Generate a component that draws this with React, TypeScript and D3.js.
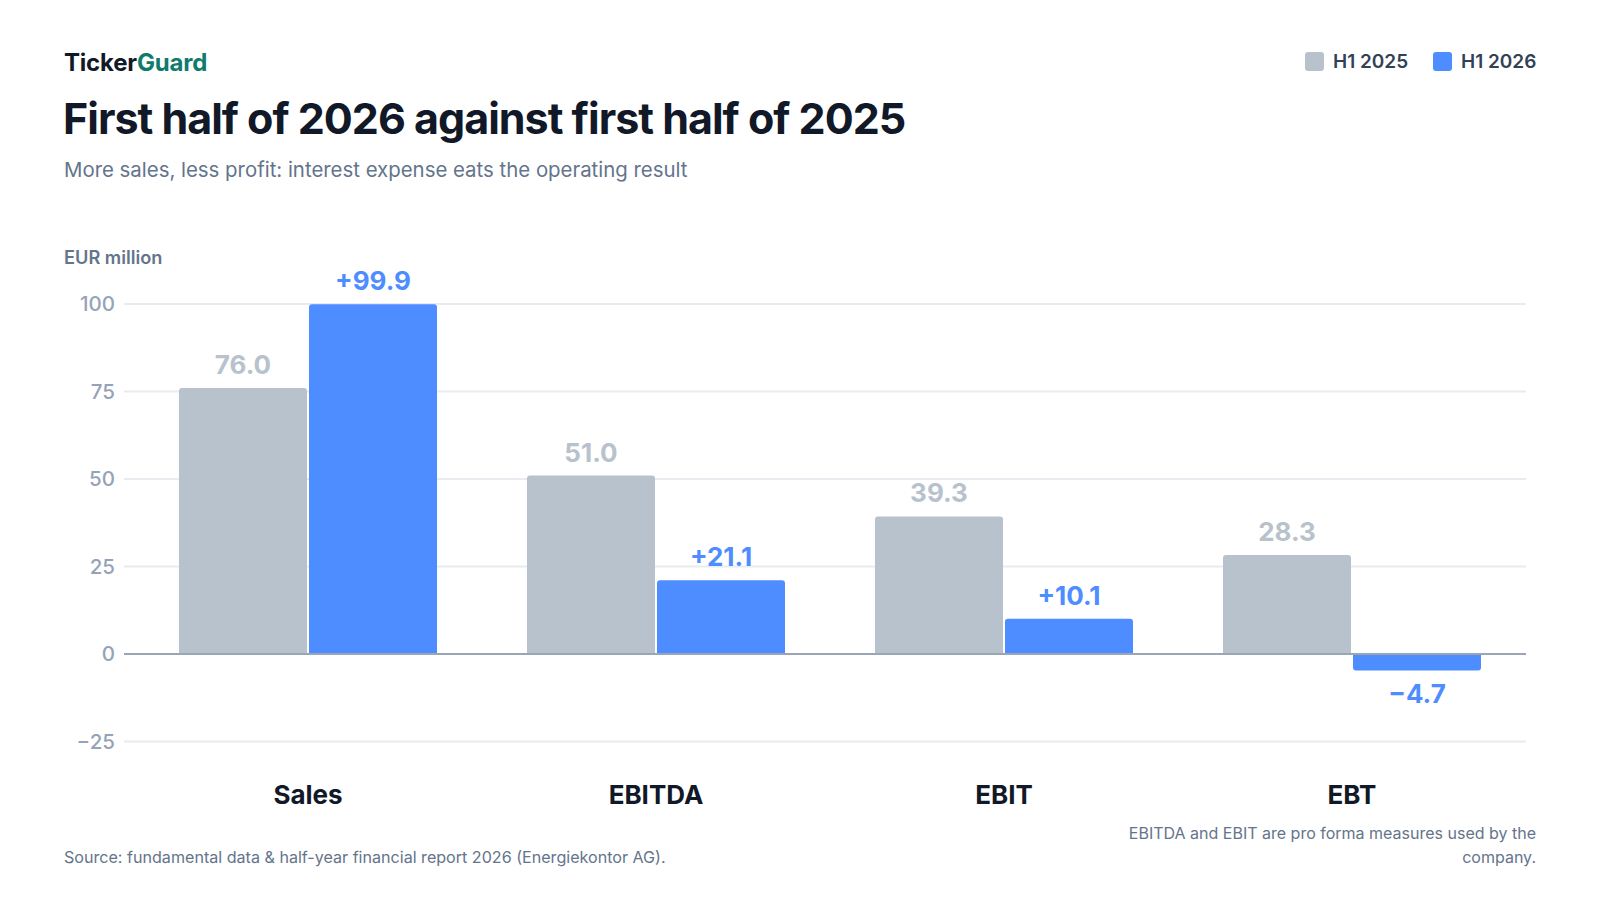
import React, { useEffect, useRef } from "react";
import * as d3 from "d3";

const categories = ["Sales", "EBITDA", "EBIT", "EBT"];
const seriesNames = ["H1 2025", "H1 2026"];
const h1_2025 = [76.0, 51.0, 39.3, 28.3];
const h1_2026 = [99.9, 21.1, 10.1, -4.7];
const yTicks = [-25, 0, 25, 50, 75, 100];

const colors = ["#b8c2cc", "#4d8dff"];
const FONT = "Inter, 'Noto Sans', sans-serif";

const fmt = (v: number, signed: boolean) => {
  const s = Math.abs(v).toFixed(1);
  if (!signed) return v < 0 ? "\u2212" + s : s;
  return (v < 0 ? "\u2212" : "+") + s;
};

// bar with rounded corners only on the outer end
const barPath = (x: number, w: number, y0: number, y1: number, r: number) => {
  const h = Math.abs(y1 - y0);
  const rr = Math.min(r, h, w / 2);
  if (y1 < y0) {
    return `M${x},${y0}V${y1 + rr}Q${x},${y1} ${x + rr},${y1}H${x + w - rr}Q${x + w},${y1} ${x + w},${y1 + rr}V${y0}Z`;
  }
  return `M${x},${y0}V${y1 - rr}Q${x},${y1} ${x + rr},${y1}H${x + w - rr}Q${x + w},${y1} ${x + w},${y1 - rr}V${y0}Z`;
};

const App = () => {
  const ref = useRef<SVGSVGElement>(null);

  useEffect(() => {
    const svg = d3.select(ref.current);
    svg.selectAll("*").remove();

    const data = categories.map((c, i) => ({
      cat: c,
      values: [
        { key: seriesNames[0], v: h1_2025[i], idx: 0 },
        { key: seriesNames[1], v: h1_2026[i], idx: 1 },
      ],
    }));

    const y = d3.scaleLinear().domain([-25, 100]).range([741.5, 304]);
    const x0 = d3.scaleBand().domain(categories).range([134, 1526]);
    const x1 = d3
      .scaleBand()
      .domain(seriesNames)
      .range([-129, 129])
      .paddingInner(0.0154);

    // header
    const brand = svg
      .append("text")
      .attr("x", 64)
      .attr("y", 71)
      .attr("font-family", FONT)
      .attr("font-size", 24)
      .attr("font-weight", 700)
      .attr("letter-spacing", -0.2);
    brand.append("tspan").attr("fill", "#111827").text("Ticker");
    brand.append("tspan").attr("fill", "#0f7b6c").text("Guard");

    svg
      .append("text")
      .attr("x", 63)
      .attr("y", 134)
      .attr("font-family", FONT)
      .attr("font-size", 43)
      .attr("font-weight", 700)
      .attr("letter-spacing", -1)
      .attr("fill", "#111827")
      .text("First half of 2026 against first half of 2025");

    svg
      .append("text")
      .attr("x", 64)
      .attr("y", 177)
      .attr("font-family", FONT)
      .attr("font-size", 20.4)
      .attr("fill", "#64748b")
      .text("More sales, less profit: interest expense eats the operating result");

    // legend
    const legendX = [1305, 1433];
    seriesNames.forEach((s, i) => {
      const g = svg.append("g").attr("transform", `translate(${legendX[i]},52)`);
      g.append("rect")
        .attr("width", 19)
        .attr("height", 19)
        .attr("rx", 3)
        .attr("fill", colors[i]);
      g.append("text")
        .attr("x", 28)
        .attr("y", 16)
        .attr("font-family", FONT)
        .attr("font-size", 19)
        .attr("font-weight", 600)
        .attr("fill", "#334155")
        .text(s);
    });

    // unit label
    svg
      .append("text")
      .attr("x", 64)
      .attr("y", 264)
      .attr("font-family", FONT)
      .attr("font-size", 18.2)
      .attr("font-weight", 600)
      .attr("fill", "#64748b")
      .text("EUR million");

    // grid + y ticks
    const grid = svg.append("g");
    yTicks.forEach((t) => {
      grid
        .append("line")
        .attr("x1", 124)
        .attr("x2", 1526)
        .attr("y1", y(t))
        .attr("y2", y(t))
        .attr("stroke", t === 0 ? "#9aa5b6" : "#e8ebef")
        .attr("stroke-width", 2);
      grid
        .append("text")
        .attr("x", 115)
        .attr("y", y(t))
        .attr("dy", "0.35em")
        .attr("text-anchor", "end")
        .attr("font-family", FONT)
        .attr("font-size", 20.5)
        .attr("font-weight", 500)
        .attr("fill", "#94a3b8")
        .text(t < 0 ? "\u2212" + Math.abs(t) : String(t));
    });

    // bars
    const groups = svg
      .append("g")
      .selectAll("g")
      .data(data)
      .join("g")
      .attr("transform", (d) => `translate(${x0(d.cat)! + x0.bandwidth() / 2},0)`);

    groups
      .selectAll("path")
      .data((d) => d.values)
      .join("path")
      .attr("fill", (d) => colors[d.idx])
      .attr("d", (d) => barPath(x1(d.key)!, x1.bandwidth(), y(0), y(d.v), 3));

    // zero line on top of bars
    svg
      .append("line")
      .attr("x1", 124)
      .attr("x2", 1526)
      .attr("y1", y(0))
      .attr("y2", y(0))
      .attr("stroke", "#9aa5b6")
      .attr("stroke-width", 2);

    groups
      .selectAll("text.val")
      .data((d) => d.values)
      .join("text")
      .attr("class", "val")
      .attr("x", (d) => x1(d.key)! + x1.bandwidth() / 2)
      .attr("y", (d) => (d.v >= 0 ? y(d.v) - 14 : y(d.v) + 33))
      .attr("text-anchor", "middle")
      .attr("font-family", FONT)
      .attr("font-size", 26)
      .attr("font-weight", 700)
      .attr("fill", (d) => colors[d.idx])
      .text((d) => fmt(d.v, d.idx === 1));

    // category labels
    svg
      .append("g")
      .selectAll("text")
      .data(categories)
      .join("text")
      .attr("x", (d) => x0(d)! + x0.bandwidth() / 2)
      .attr("y", 804)
      .attr("text-anchor", "middle")
      .attr("font-family", FONT)
      .attr("font-size", 26)
      .attr("font-weight", 700)
      .attr("fill", "#111827")
      .text((d) => d);

    // footer
    svg
      .append("text")
      .attr("x", 64)
      .attr("y", 863)
      .attr("font-family", FONT)
      .attr("font-size", 16.1)
      .attr("fill", "#64748b")
      .text("Source: fundamental data & half-year financial report 2026 (Energiekontor AG).");

    const note = svg
      .append("text")
      .attr("text-anchor", "end")
      .attr("font-family", FONT)
      .attr("font-size", 16)
      .attr("fill", "#64748b");
    note.append("tspan").attr("x", 1536).attr("y", 839).text("EBITDA and EBIT are pro forma measures used by the");
    note.append("tspan").attr("x", 1536).attr("y", 863).text("company.");
  }, []);

  return (
    <svg
      ref={ref}
      width={1600}
      height={900}
      style={{ position: "absolute", left: 0, top: 0, background: "#ffffff" }}
    ></svg>
  );
};

export default App;
